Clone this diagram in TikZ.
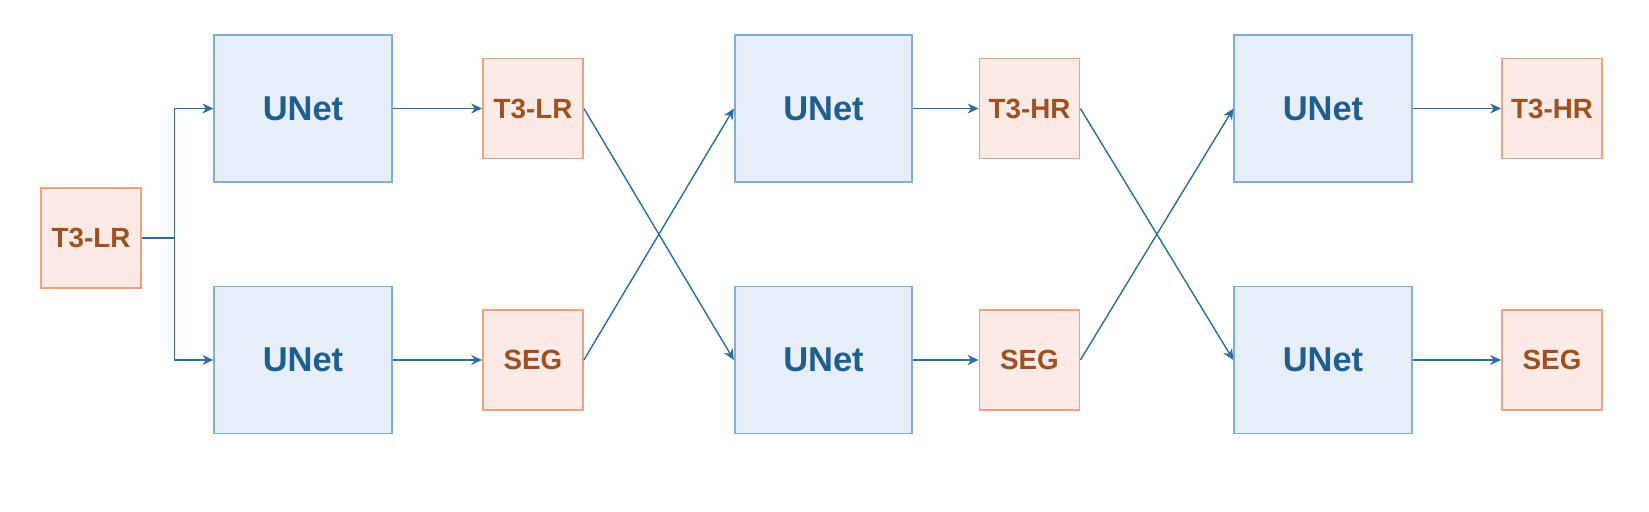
\documentclass[tikz,border=0pt]{standalone}
\usepackage{fontspec}
\setmainfont{Liberation Sans}
\usetikzlibrary{arrows.meta,positioning}
\definecolor{netblue}{HTML}{1F5F8F}
\definecolor{netfill}{HTML}{E8EEF8}
\definecolor{netdraw}{HTML}{7EAEE0}
\definecolor{imgbrown}{HTML}{A0501E}
\definecolor{imgfill}{HTML}{FBEAE5}
\definecolor{imgdraw}{HTML}{F4A07E}
\definecolor{linkblue}{HTML}{2E6E9E}

\begin{document}
\begin{tikzpicture}[
  x=1cm,
  y=1cm,
  font=\bfseries,
  >=Stealth,
  netbox/.style={draw=netdraw, fill=netfill, line width=0.5pt, minimum width=1.775cm, minimum height=1.47cm, inner sep=0pt, text=netblue, font=\fontsize{9.8}{12}\selectfont\bfseries},
  imgbox/.style={draw=imgdraw, fill=imgfill, line width=0.5pt, minimum width=1.0cm, minimum height=1.0cm, inner sep=0pt, text=imgbrown, font=\fontsize{7.9}{10}\selectfont\bfseries},
  link/.style={-{Stealth[length=1.1mm, width=1.0mm]}, draw=linkblue, line width=0.4pt}
]
\useasboundingbox (0,0) rectangle (16.49,5.11);

\node[imgbox] (input) at (0.91,2.73) {T3-LR};

\node[netbox] (unetAt) at (3.03,4.025) {UNet};
\node[netbox] (unetAb) at (3.03,1.51) {UNet};
\node[imgbox] (lrA) at (5.33,4.025) {T3-LR};
\node[imgbox] (segA) at (5.33,1.51) {SEG};

\node[netbox] (unetBt) at (8.235,4.025) {UNet};
\node[netbox] (unetBb) at (8.235,1.51) {UNet};
\node[imgbox] (hrB) at (10.295,4.025) {T3-HR};
\node[imgbox] (segB) at (10.295,1.51) {SEG};

\node[netbox] (unetCt) at (13.23,4.025) {UNet};
\node[netbox] (unetCb) at (13.23,1.51) {UNet};
\node[imgbox] (hrC) at (15.52,4.025) {T3-HR};
\node[imgbox] (segC) at (15.52,1.51) {SEG};

% split of the input
\coordinate (split) at (1.745,2.73);
\draw[draw=linkblue, line width=0.4pt] (input.east) -- (split);
\draw[link] (split) |- (unetAt.west);
\draw[link] (split) |- (unetAb.west);

% straight links
\draw[link] (unetAt) -- (lrA);
\draw[link] (unetAb) -- (segA);
\draw[link] (unetBt) -- (hrB);
\draw[link] (unetBb) -- (segB);
\draw[link] (unetCt) -- (hrC);
\draw[link] (unetCb) -- (segC);

% crossing links
\draw[link] (lrA.east) -- (unetBb.west);
\draw[link] (segA.east) -- (unetBt.west);
\draw[link] (hrB.east) -- (unetCb.west);
\draw[link] (segB.east) -- (unetCt.west);

\end{tikzpicture}
\end{document}
